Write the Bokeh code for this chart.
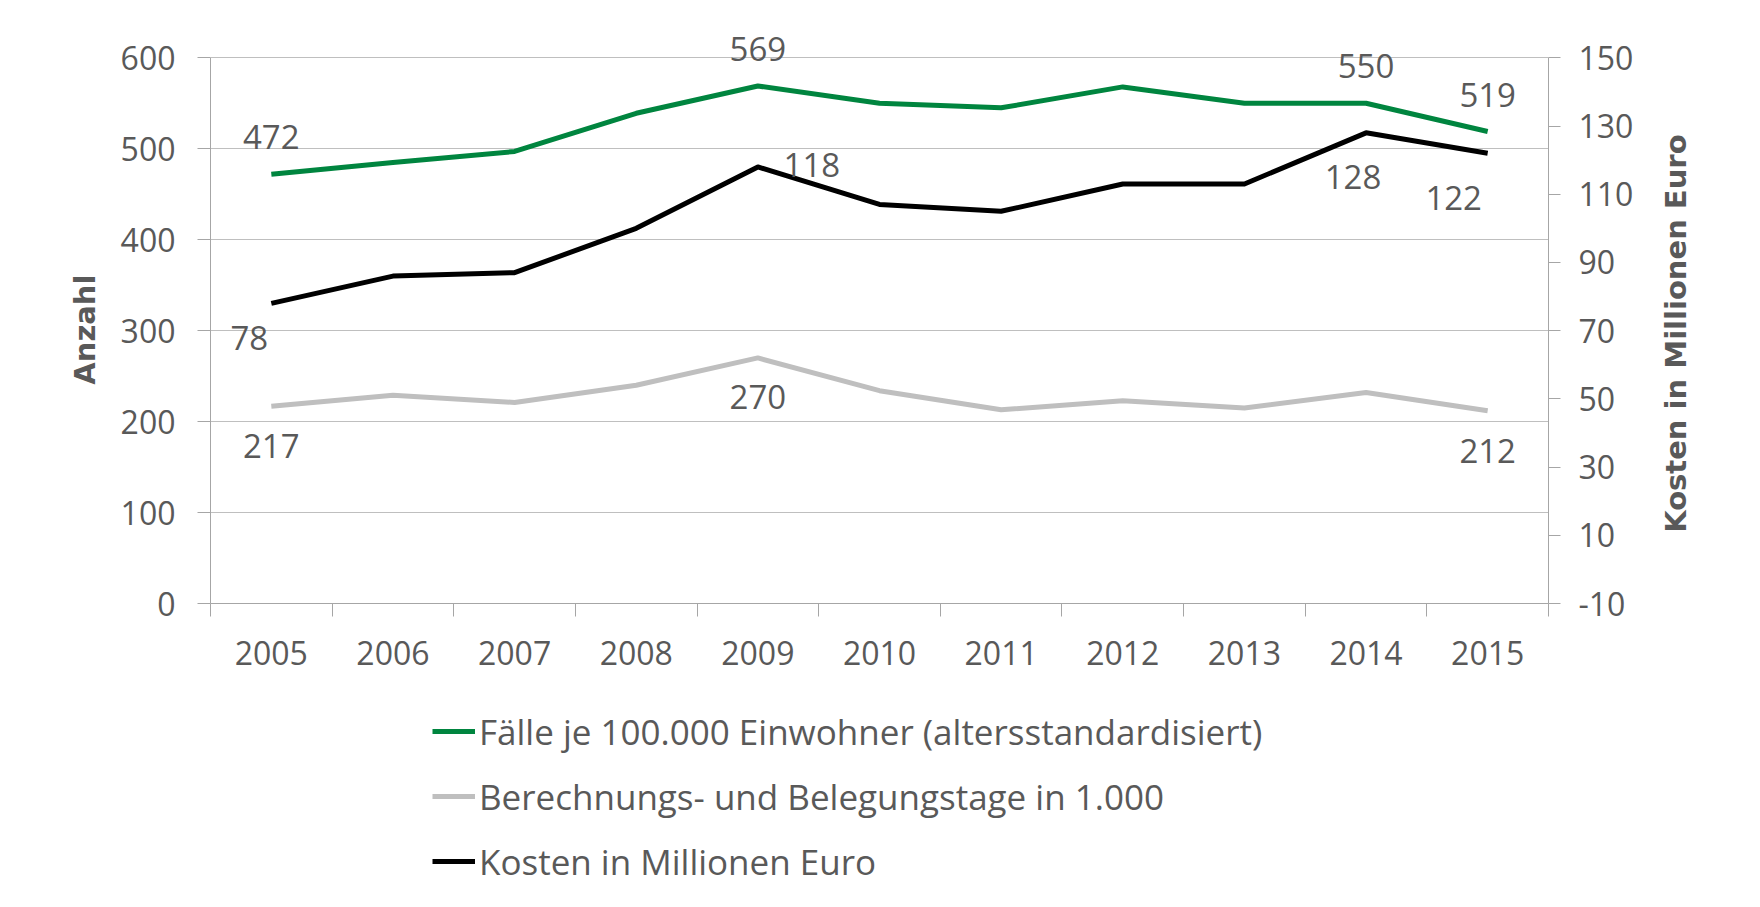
import math
from bokeh.plotting import figure
from bokeh.layouts import column
from bokeh.models import (Range1d, LinearAxis, FixedTicker, ColumnDataSource,
                          LabelSet, Legend, LegendItem)
from bokeh.core.properties import value
from bokeh.embed import file_html
from bokeh.resources import INLINE

# ---- data ----
years = ["2005", "2006", "2007", "2008", "2009", "2010",
         "2011", "2012", "2013", "2014", "2015"]
faelle = [472, 485, 497, 539, 569, 550, 545, 568, 550, 550, 519]
tage = [217, 229, 221, 240, 270, 234, 213, 223, 215, 232, 212]
kosten = [78, 86, 87, 100, 118, 107, 105, 113, 113, 128, 122]

left_ticks = [0, 100, 200, 300, 400, 500, 600]
right_ticks = [-10, 10, 30, 50, 70, 90, 110, 130, 150]

name_faelle = "Fälle je 100.000 Einwohner (altersstandardisiert)"
name_tage = "Berechnungs- und Belegungstage in 1.000"
name_kosten = "Kosten in Millionen Euro"
title_left = "Anzahl"

# which points carry data labels
faelle_label_idx = [0, 4, 9, 10]
tage_label_idx = [0, 4, 10]
kosten_label_idx = [0, 4, 9, 10]

# ---- styles / layout ----
GREEN = "#00853F"
GREY = "#BFBFBF"
BLACK = "#000000"
TXT = "#595959"
AXIS = "#A6A6A6"
GRID = "#BFBFBF"
FONT = "Open Sans"
FS = "32px"
NBSP = "\u00a0"

W = 1756
H_MAIN, H_LEG = 700, 204
FRAME_L, FRAME_R = 210, 1548
FRAME_T, FRAME_B = 35, 603          # frame top leaves head room for labels
AXIS_TOP = 57.3                     # pixel row of the top tick (600 / 150)
head = (FRAME_B - FRAME_T) / (FRAME_B - AXIS_TOP)

xs = list(range(len(years)))
l0, l1 = left_ticks[0], left_ticks[-1]
r0, r1 = right_ticks[0], right_ticks[-1]

p = figure(width=W, height=H_MAIN, output_backend="svg", toolbar_location=None,
           x_range=Range1d(-0.5, len(years) - 0.5),
           y_range=Range1d(l0, l0 + (l1 - l0) * head),
           min_border_left=FRAME_L, min_border_right=W - FRAME_R,
           min_border_top=FRAME_T, min_border_bottom=H_MAIN - FRAME_B)
p.extra_y_ranges = {"kosten": Range1d(r0, r0 + (r1 - r0) * head)}
p.outline_line_color = None
p.background_fill_color = "white"
p.border_fill_color = "white"

# x axis: labels at centers, tick marks at boundaries (minor ticks)
xa = p.xaxis[0]
xa.ticker = FixedTicker(ticks=xs, minor_ticks=[i - 0.5 for i in range(len(years) + 1)])
xa.major_label_overrides = {i: y for i, y in enumerate(years)}
xa.major_tick_line_color = None
xa.minor_tick_line_color = AXIS
xa.minor_tick_in = 0
xa.minor_tick_out = 13
xa.axis_line_color = AXIS
xa.major_label_text_font = FONT
xa.major_label_text_font_size = FS
xa.major_label_text_color = TXT
xa.major_label_standoff = 24
p.xgrid.grid_line_color = None

# left y axis
ya = p.yaxis[0]
ya.ticker = FixedTicker(ticks=left_ticks)
ya.bounds = (l0, l1)
ya.minor_tick_line_color = None
ya.major_tick_in = 0
ya.major_tick_out = 13
ya.major_tick_line_color = AXIS
ya.axis_line_color = AXIS
ya.major_label_text_font = FONT
ya.major_label_text_font_size = FS
ya.major_label_text_color = TXT
ya.major_label_standoff = 22
ya.axis_label = title_left + NBSP * 2
ya.axis_label_text_font = "DejaVu Sans"
ya.axis_label_text_font_style = "bold"
ya.axis_label_text_font_size = "29px"
ya.axis_label_text_color = TXT
ya.axis_label_standoff = 16
p.ygrid.ticker = FixedTicker(ticks=left_ticks)
p.ygrid.grid_line_color = GRID
p.ygrid.grid_line_width = 1

# right y axis
ra = LinearAxis(y_range_name="kosten", ticker=FixedTicker(ticks=right_ticks))
ra.bounds = (r0, r1)
ra.major_label_overrides = {t: str(t) for t in right_ticks}
ra.minor_tick_line_color = None
ra.major_tick_in = 0
ra.major_tick_out = 12
ra.major_tick_line_color = AXIS
ra.axis_line_color = AXIS
ra.major_label_text_font = FONT
ra.major_label_text_font_size = FS
ra.major_label_text_color = TXT
ra.major_label_standoff = 18
ra.axis_label = NBSP * 7 + name_kosten
ra.axis_label_text_font = "DejaVu Sans"
ra.axis_label_text_font_style = "bold"
ra.axis_label_text_font_size = "29px"
ra.axis_label_text_color = TXT
ra.axis_label_standoff = 40
ra.axis_label_orientation = math.pi / 2
ra.axis_label_align = "start"
p.add_layout(ra, "right")

# lines
line_kw = dict(line_width=5, line_join="round")
p.line(xs, faelle, line_color=GREEN, **line_kw)
p.line(xs, tage, line_color=GREY, **line_kw)
p.line(xs, kosten, line_color=BLACK, y_range_name="kosten", **line_kw)

# data labels
def label_source(idx, vals, dx, dy):
    return ColumnDataSource(dict(
        x=[xs[i] for i in idx],
        y=[vals[i] for i in idx],
        t=[str(vals[i]) for i in idx],
        dx=dx, dy=dy))

src_f = label_source(faelle_label_idx, faelle, [0, 0, 0, 0], [37, 37, 37, 36])
src_t = label_source(tage_label_idx, tage, [0, 0, 0], [-40, -39, -40])
src_k = label_source(kosten_label_idx, kosten, [-22, 54, -13, -34], [-35, 2, -44, -45])

for src, rng in ((src_f, "default"), (src_t, "default"), (src_k, "kosten")):
    ls = LabelSet(x="x", y="y", text="t", source=src, x_offset="dx", y_offset="dy",
                  y_range_name=rng, text_align="center", text_baseline="middle",
                  text_font=value(FONT), text_font_size=value("33px"),
                  text_color=TXT)
    p.add_layout(ls)

# legend: its own strip under the chart (series drawn there out of view)
q = figure(width=W, height=H_LEG, output_backend="svg", toolbar_location=None,
           x_range=p.x_range, y_range=Range1d(10 * l1, 11 * l1),
           x_axis_location=None, y_axis_location=None,
           min_border=0, outline_line_color=None)
q.grid.grid_line_color = None
q.background_fill_color = "white"
q.border_fill_color = "white"
g_f = q.line(xs, faelle, line_color=GREEN, **line_kw)
g_t = q.line(xs, tage, line_color=GREY, **line_kw)
g_k = q.line(xs, kosten, line_color=BLACK, **line_kw)

legend = Legend(items=[LegendItem(label=name_faelle, renderers=[g_f]),
                       LegendItem(label=name_tage, renderers=[g_t]),
                       LegendItem(label=name_kosten, renderers=[g_k])],
                location=(222, 18), orientation="vertical")
legend.border_line_color = None
legend.background_fill_alpha = 0
legend.padding = 0
legend.margin = 0
legend.spacing = 15
legend.glyph_height = 50
legend.glyph_width = 43
legend.label_height = 50
legend.label_standoff = 4
legend.label_text_font = FONT
legend.label_text_font_size = "35px"
legend.label_text_color = TXT
q.add_layout(legend, "center")

open("out.html", "w").write(file_html(column(p, q), INLINE))
